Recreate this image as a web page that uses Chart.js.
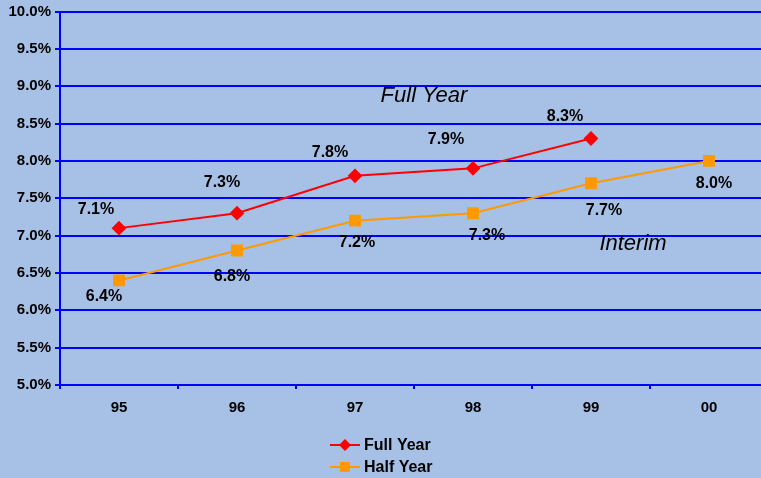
<!DOCTYPE html>
<html>
<head>
<meta charset="utf-8">
<script src="https://cdn.jsdelivr.net/npm/chart.js@4/dist/chart.umd.min.js"></script>
<style>
  html, body { margin: 0; padding: 0; background: #a7c0e5; overflow: hidden; }
  canvas { display: block; }
</style>
</head>
<body>
<canvas id="line-chart" width="777" height="478"></canvas>
<script>
const years = ["95", "96", "97", "98", "99", "00"];
const fullYear = [7.1, 7.3, 7.8, 7.9, 8.3, null];
const halfYear = [6.4, 6.8, 7.2, 7.3, 7.7, 8.0];
const yTicks = [5.0, 5.5, 6.0, 6.5, 7.0, 7.5, 8.0, 8.5, 9.0, 9.5, 10.0];

// label offsets from each point (px)
const fullOffsets = [[-23, -19], [-15, -31], [-25, -23], [-27, -29], [-26, -22], [0, 0]];
const halfOffsets = [[-15, 16], [-5, 26], [2, 22], [14, 22], [13, 27], [5, 23]];

const FONT = "'Liberation Sans', Arial, sans-serif";

const pointLabels = {
  id: "pointLabels",
  afterDatasetsDraw(chart) {
    const ctx = chart.ctx;
    ctx.save();
    ctx.font = "bold 16px " + FONT;
    ctx.fillStyle = "#000";
    ctx.textAlign = "center";
    ctx.textBaseline = "middle";
    [fullOffsets, halfOffsets].forEach((offs, di) => {
      const meta = chart.getDatasetMeta(di);
      const data = chart.data.datasets[di].data;
      meta.data.forEach((pt, i) => {
        if (data[i] == null) return;
        ctx.fillText(data[i].toFixed(1) + "%", pt.x + offs[i][0], pt.y + offs[i][1]);
      });
    });
    // series notes
    ctx.font = "italic 22px " + FONT;
    ctx.fillText("Full Year", 424, 96);
    ctx.fillText("Interim", 633, 244);
    ctx.restore();
  }
};

const sideLegend = {
  id: "sideLegend",
  afterDraw(chart) {
    const ctx = chart.ctx;
    ctx.save();
    chart.data.datasets.forEach((ds, i) => {
      const y = 445 + i * 22;
      ctx.strokeStyle = ds.borderColor;
      ctx.lineWidth = 2;
      ctx.beginPath();
      ctx.moveTo(330, y);
      ctx.lineTo(360, y);
      ctx.stroke();
      ctx.fillStyle = ds.backgroundColor;
      ctx.beginPath();
      if (ds.pointStyle === "rectRot") {
        ctx.moveTo(345, y - 6); ctx.lineTo(351, y); ctx.lineTo(345, y + 6); ctx.lineTo(339, y);
      } else {
        ctx.rect(340, y - 5, 10, 10);
      }
      ctx.closePath();
      ctx.fill();
      ctx.fillStyle = "#000";
      ctx.font = "bold 16px " + FONT;
      ctx.textBaseline = "middle";
      ctx.fillText(ds.label, 364, y + 1);
    });
    ctx.restore();
  }
};

new Chart(document.getElementById("line-chart"), {
  type: "line",
  data: {
    labels: years,
    datasets: [
      {
        label: "Full Year",
        data: fullYear,
        borderColor: "#ff0000",
        backgroundColor: "#ff0000",
        borderWidth: 2,
        pointStyle: "rectRot",
        pointRadius: 6,
        pointHoverRadius: 6,
        spanGaps: false
      },
      {
        label: "Half Year",
        data: halfYear,
        borderColor: "#ff9900",
        backgroundColor: "#ff9900",
        borderWidth: 2,
        pointStyle: "rect",
        pointRadius: 7,
        pointHoverRadius: 7
      }
    ]
  },
  options: {
    responsive: false,
    animation: false,
    layout: { padding: { left: 0, right: 1, top: 11, bottom: 53 } },
    plugins: { legend: { display: false }, tooltip: { enabled: false } },
    scales: {
      x: {
        offset: true,
        grid: { offset: true, drawOnChartArea: false, color: "#0000ff", lineWidth: 2, tickLength: 4 },
        border: { color: "#0000ff", width: 2 },
        ticks: { color: "#000", font: { family: FONT, size: 15, weight: "bold" }, padding: 10 },
        afterFit(axis) { axis.height = 40; }
      },
      y: {
        min: 5, max: 10,
        afterBuildTicks(axis) { axis.ticks = yTicks.map(v => ({ value: v })); },
        grid: { color: "#0000ff", lineWidth: 2, tickLength: 5 },
        border: { color: "#0000ff", width: 2 },
        ticks: {
          color: "#000",
          font: { family: FONT, size: 15, weight: "bold", lineHeight: 1 },
          padding: 4,
          callback: v => v.toFixed(1) + "%"
        },
        afterFit(axis) { axis.width = 60; }
      }
    }
  },
  plugins: [pointLabels, sideLegend]
});
</script>
</body>
</html>
